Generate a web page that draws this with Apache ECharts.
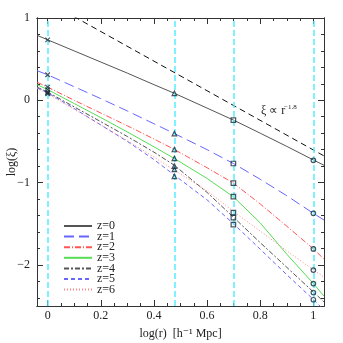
<!DOCTYPE html>
<html><head><meta charset="utf-8">
<script src="https://cdn.jsdelivr.net/npm/echarts@6/dist/echarts.min.js"></script>
<style>html,body{margin:0;padding:0;background:#fff}#c{width:343px;height:343px}</style>
</head><body><div id="c"></div>
<script>
// ---- data ----
const xGrid = [-0.04, 0, 0.1, 0.2, 0.3, 0.4, 0.477, 0.6, 0.699, 0.8, 0.9, 1, 1.04];
const z0 = [0.79, 0.735, 0.60, 0.465, 0.33, 0.19, 0.085, -0.095, -0.24, -0.40, -0.56, -0.725, -0.79];
const z1 = [0.36, 0.31, 0.165, 0.02, -0.13, -0.285, -0.404, -0.60, -0.768, -0.96, -1.16, -1.374, -1.455];
const z2 = [0.22, 0.16, 0.0, -0.155, -0.31, -0.47, -0.598, -0.82, -1.006, -1.26, -1.53, -1.806, -1.93];
const z3 = [0.19, 0.13, -0.04, -0.21, -0.385, -0.565, -0.707, -0.95, -1.172, -1.49, -1.87, -2.227, -2.38];
const z4 = [0.16, 0.10, -0.08, -0.26, -0.44, -0.63, -0.79, -1.12, -1.42, -1.73, -2.03, -2.33, -2.45];
const z5 = [0.15, 0.09, -0.10, -0.30, -0.50, -0.72, -0.91, -1.21, -1.50, -1.81, -2.12, -2.42, -2.55];
const z6 = [0.15, 0.08, -0.11, -0.30, -0.49, -0.69, -0.85, -1.10, -1.35, -1.59, -1.83, -2.06, -2.15];
const names = ['z=0', 'z=1', 'z=2', 'z=3', 'z=4', 'z=5', 'z=6'];
const markerX = [0, 0.477, 0.699, 1];
const crossY = [0.735, 0.31, 0.16, 0.13, 0.10, 0.09, 0.08];
const triY = [0.085, -0.404, -0.598, -0.707, -0.80, -0.925, -0.84];
const sqY = [-0.24, -0.768, -1.006, -1.172, -1.427, -1.511, -1.366];
const circY = [-0.73, -1.374, -1.806, -2.227, -2.336, -2.424, -2.064];
const vLines = [0, 0.477, 0.699, 1];
const powerX = [0, 1.04];
const powerY = [1.196, -0.676];
const xMajor = [0, 0.2, 0.4, 0.6, 0.8, 1];
const xMinor = [0, 0.05, 0.1, 0.15, 0.2, 0.25, 0.3, 0.35, 0.4, 0.45, 0.5, 0.55, 0.6, 0.65, 0.7, 0.75, 0.8, 0.85, 0.9, 0.95, 1];
const yMajor = [-2, -1, 0, 1];
const yMinor = [-2.4, -2.2, -2, -1.8, -1.6, -1.4, -1.2, -1, -0.8, -0.6, -0.4, -0.2, 0, 0.2, 0.4, 0.6, 0.8, 1];

// ---- chart ----
const FONT = "'Liberation Serif', 'DejaVu Serif', serif";
const AX = '#333';
const fmt = v => String(v).replace('-', '\u2212');
function xa(pos, vals, len, labels, name) {
  return {
    type: 'value', min: -0.04, max: 1.04, position: pos, gridIndex: 0,
    name: name || '', nameLocation: 'middle', nameGap: 22,
    nameTextStyle: { fontFamily: FONT, fontSize: 12, color: '#222' },
    axisLine: { show: true, onZero: false, lineStyle: { color: AX, width: 1 } },
    axisTick: { show: true, inside: true, length: len, customValues: vals, lineStyle: { color: AX } },
    axisLabel: { show: labels, customValues: vals, formatter: fmt, margin: 4,
      fontFamily: FONT, fontSize: 12, color: '#222' },
    splitLine: { show: false }
  };
}
function ya(pos, vals, len, labels) {
  return {
    type: 'value', min: -2.5, max: 1, position: pos, gridIndex: 0,
    axisLine: { show: true, onZero: false, lineStyle: { color: AX, width: 1 } },
    axisTick: { show: true, inside: true, length: len, customValues: vals, lineStyle: { color: AX } },
    axisLabel: { show: labels, customValues: vals, formatter: fmt, margin: 7,
      fontFamily: FONT, fontSize: 12, color: '#222' },
    splitLine: { show: false }
  };
}
const styles = [
  { color: '#555555', type: 'solid' },
  { color: '#6666ff', type: [10, 5] },
  { color: '#ff5555', type: [6, 2, 1, 2] },
  { color: '#55dd55', type: 'solid' },
  { color: '#555555', type: [5, 2, 2, 2] },
  { color: '#6666ff', type: [4, 3] },
  { color: '#ff8888', type: [1, 2] }
];
const curves = [z0, z1, z2, z3, z4, z5, z6];
const series = [];
series.push({
  type: 'line', data: [], silent: true, z: 1,
  markLine: { silent: true, symbol: 'none', label: { show: false },
    lineStyle: { color: '#55eeff', width: 1.5, type: [6, 3] },
    data: vLines.map(v => ({ xAxis: v })) }
});
curves.forEach((c, i) => {
  series.push({
    name: names[i], type: 'line', symbol: 'none', showSymbol: false,
    data: xGrid.map((x, k) => [x, c[k]]), z: 2,
    lineStyle: { color: styles[i].color, type: styles[i].type, width: 1 },
    itemStyle: { color: styles[i].color }
  });
});
series.push({
  type: 'line', symbol: 'none', data: powerX.map((x, k) => [x, powerY[k]]), z: 2,
  lineStyle: { color: '#111', type: [6, 4], width: 1 }
});
const mk = (x, arr, sym) => ({
  type: 'scatter', symbol: sym, symbolSize: 4.5, z: 5,
  data: arr.map(y => [x, y]),
  itemStyle: { color: 'rgba(0,0,0,0)', borderColor: '#1a2a3a', borderWidth: 1.2 }
});
series.push(mk(markerX[0], crossY, 'path://M0,0L10,10M10,0L0,10'));
series.push(mk(markerX[1], triY, 'triangle'));
series.push(mk(markerX[2], sqY, 'rect'));
series.push(mk(markerX[3], circY, 'circle'));

const chart = echarts.init(document.getElementById('c'), null, { renderer: 'canvas' });
chart.setOption({
  animation: false,
  backgroundColor: '#fff',
  grid: { left: 37, top: 18, right: 19, bottom: 37, containLabel: false, outerBoundsMode: 'none' },
  xAxis: [
    xa('bottom', xMajor, 6, true, 'log(r)  [h\u207B\u00B9 Mpc]'),
    xa('bottom', xMinor, 3, false),
    xa('top', xMajor, 6, false),
    xa('top', xMinor, 3, false)
  ],
  yAxis: [
    ya('left', yMajor, 6, true),
    ya('left', yMinor, 3, false),
    ya('right', yMajor, 6, false),
    ya('right', yMinor, 3, false)
  ],
  legend: {
    data: names, orient: 'vertical', left: 58, top: 215,
    itemWidth: 28, itemHeight: 8, itemGap: -1.4,
    itemStyle: { opacity: 0 },
    textStyle: { fontFamily: FONT, fontSize: 12, color: '#222' }
  },
  graphic: [
    { type: 'text', x: 12, y: 162, rotation: Math.PI / 2,
      style: { text: 'log(\u03BE)', font: "12px 'Liberation Serif'", fill: '#222', align: 'center', verticalAlign: 'middle' } },
    { type: 'text', left: 261, top: 105, style: { text: '\u03BE \u221D r', font: "12px 'Liberation Serif'", fill: '#222' } },
    { type: 'text', left: 284, top: 104, style: { text: '\u22121.8', font: "7px 'Liberation Serif'", fill: '#222' } }
  ],
  series: series
});
</script>
</body></html>
